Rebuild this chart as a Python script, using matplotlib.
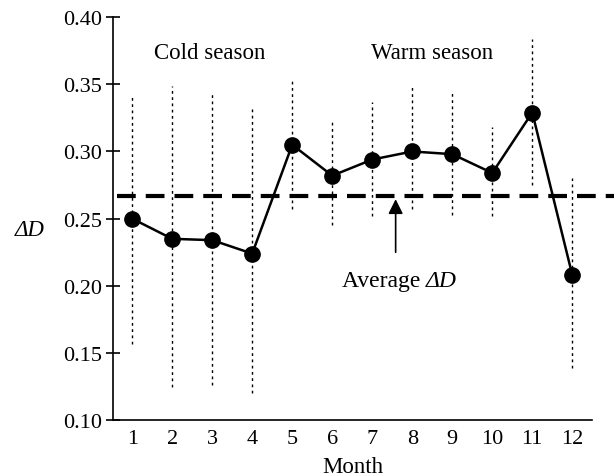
import numpy as np
import matplotlib
matplotlib.use("Agg")
import matplotlib.pyplot as plt

# значения
months = [1, 2, 3, 4, 5, 6, 7, 8, 9, 10, 11, 12]
delta_d = [0.250, 0.235, 0.234, 0.224, 0.305, 0.282, 0.294, 0.300, 0.298, 0.284, 0.329, 0.208]
upper = [0.343, 0.349, 0.344, 0.332, 0.355, 0.323, 0.337, 0.348, 0.344, 0.318, 0.384, 0.280]
lower = [0.157, 0.125, 0.126, 0.120, 0.257, 0.245, 0.252, 0.257, 0.253, 0.252, 0.275, 0.139]
average_d = 0.267

plt.rcParams['font.family'] = ['Liberation Serif', 'DejaVu Serif']

fig = plt.figure(figsize=(6.14, 4.77), dpi=100)
ax = fig.add_axes([0.184, 0.117, 0.780, 0.845])

# разброс значений - пунктирные вертикальные линии
ax.vlines(months, lower, upper, colors='black', linewidth=1.0, linestyles=(0, (2, 2.5)))

# среднее значение
ax.plot([0.62, 13.5], [average_d, average_d], color='black', linewidth=3.0,
        linestyle=(0, (4.5, 2.4)), clip_on=False)

ax.plot(months, delta_d, color='black', linewidth=1.8, marker='o', markersize=11)

ax.annotate('', xy=(7.585, 0.2645), xytext=(7.585, 0.225),
            arrowprops=dict(arrowstyle='-|>', color='black', lw=1.2,
                            mutation_scale=22, shrinkA=0, shrinkB=0))
t_avg = ax.text(6.24, 0.204, 'Average ', fontsize=17, va='center', ha='left')
ax.annotate('ΔD', xy=(1, 0.5), xycoords=t_avg, va='center', ha='left',
            fontsize=17, fontstyle='italic')
ax.text(1.54, 0.374, 'Cold season', fontsize=16.5, va='center', ha='left')
ax.text(6.96, 0.374, 'Warm season', fontsize=16.5, va='center', ha='left')

ax.set_xlim(0.52, 12.49)
ax.set_ylim(0.10, 0.40)
ax.set_xticks(months)
ax.set_yticks(np.arange(0.10, 0.41, 0.05))
ax.set_yticklabels(['0.10', '0.15', '0.20', '0.25', '0.30', '0.35', '0.40'])

ax.spines['top'].set_visible(False)
ax.spines['right'].set_visible(False)
ax.spines['left'].set_linewidth(1.2)
ax.spines['bottom'].set_linewidth(1.2)
ax.tick_params(axis='x', length=0, pad=6, labelsize=16)
ax.tick_params(axis='y', direction='inout', length=10, width=1.2, pad=3, labelsize=16)

ax.set_xlabel('Month', fontsize=16.5, labelpad=6)
ax.set_ylabel('ΔD', fontsize=16.5, fontstyle='italic', rotation=0, va='center', ha='center')
ax.yaxis.set_label_coords(-0.173, 0.474)

fig.savefig('out.png', dpi=100)
